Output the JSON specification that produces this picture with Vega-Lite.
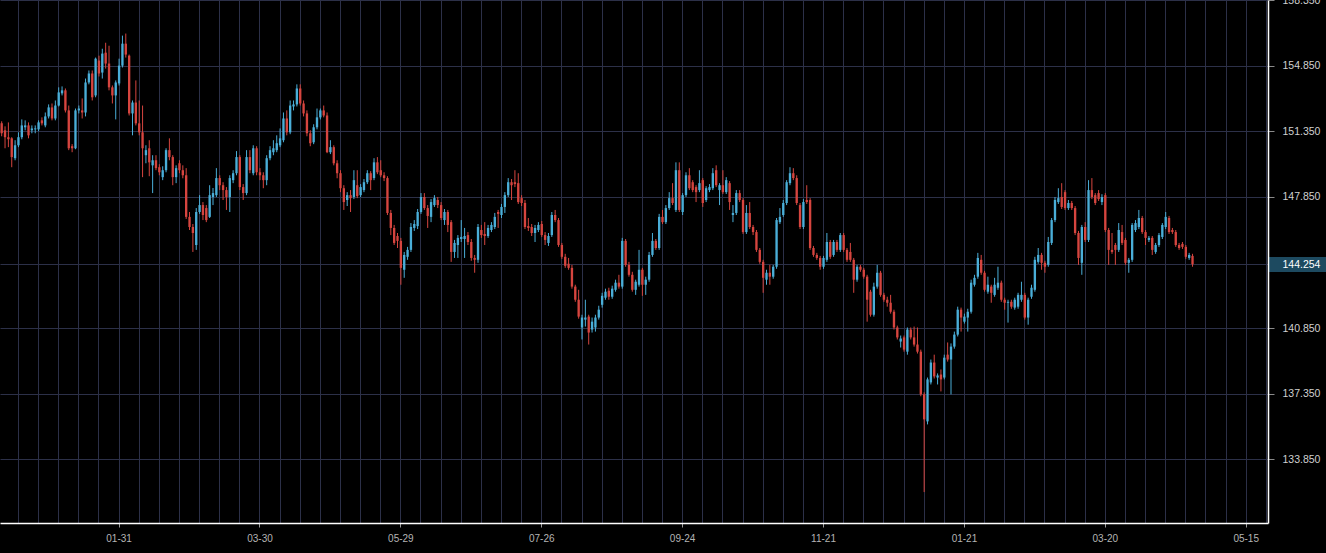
{
"$schema": "https://vega.github.io/schema/vega-lite/v6.json",
"width": 1268, "height": 523,
"padding": {"left": 0, "top": 0, "right": 58, "bottom": 30},
"autosize": {"type": "none"},
"background": "#000000",
"config": {"view": {"stroke": null}, "font": "Liberation Sans"},
"data": {"values": [
{"d":"2017-12-12","o":151.77,"h":151.88,"l":151.08,"c":151.24},
{"d":"2017-12-13","o":151.40,"h":151.61,"l":150.44,"c":151.03},
{"d":"2017-12-14","o":151.03,"h":151.82,"l":150.50,"c":150.92},
{"d":"2017-12-15","o":150.97,"h":151.03,"l":149.43,"c":149.97},
{"d":"2017-12-18","o":149.91,"h":150.87,"l":149.80,"c":150.60},
{"d":"2017-12-19","o":150.60,"h":151.29,"l":150.50,"c":151.03},
{"d":"2017-12-20","o":151.03,"h":151.98,"l":150.92,"c":151.66},
{"d":"2017-12-21","o":151.56,"h":151.93,"l":151.40,"c":151.66},
{"d":"2017-12-22","o":151.66,"h":151.82,"l":150.97,"c":151.13},
{"d":"2017-12-25","o":151.40,"h":151.66,"l":151.24,"c":151.50},
{"d":"2017-12-26","o":151.45,"h":151.66,"l":151.24,"c":151.50},
{"d":"2017-12-27","o":151.45,"h":151.93,"l":151.35,"c":151.82},
{"d":"2017-12-28","o":151.93,"h":152.09,"l":151.66,"c":151.77},
{"d":"2017-12-29","o":151.66,"h":152.35,"l":151.56,"c":152.14},
{"d":"2018-01-02","o":152.14,"h":152.78,"l":152.03,"c":152.62},
{"d":"2018-01-03","o":152.62,"h":152.83,"l":151.93,"c":152.03},
{"d":"2018-01-04","o":152.03,"h":152.99,"l":151.93,"c":152.72},
{"d":"2018-01-05","o":152.72,"h":153.69,"l":152.67,"c":153.42},
{"d":"2018-01-08","o":153.37,"h":153.74,"l":153.26,"c":153.53},
{"d":"2018-01-09","o":153.53,"h":153.63,"l":152.35,"c":152.46},
{"d":"2018-01-10","o":152.46,"h":152.72,"l":150.34,"c":150.44},
{"d":"2018-01-11","o":150.55,"h":150.66,"l":150.23,"c":150.44},
{"d":"2018-01-12","o":150.44,"h":152.56,"l":150.39,"c":152.46},
{"d":"2018-01-15","o":152.46,"h":152.72,"l":152.30,"c":152.56},
{"d":"2018-01-16","o":152.46,"h":153.10,"l":152.03,"c":152.35},
{"d":"2018-01-17","o":152.35,"h":154.16,"l":152.14,"c":153.95},
{"d":"2018-01-18","o":153.95,"h":154.59,"l":153.85,"c":154.43},
{"d":"2018-01-19","o":154.43,"h":154.59,"l":152.99,"c":153.16},
{"d":"2018-01-22","o":153.26,"h":155.28,"l":153.16,"c":155.22},
{"d":"2018-01-23","o":155.12,"h":155.38,"l":154.27,"c":154.43},
{"d":"2018-01-24","o":154.48,"h":155.75,"l":154.16,"c":155.49},
{"d":"2018-01-25","o":155.54,"h":156.07,"l":154.69,"c":154.96},
{"d":"2018-01-26","o":154.96,"h":155.91,"l":153.53,"c":153.69},
{"d":"2018-01-29","o":153.69,"h":153.79,"l":152.83,"c":153.26},
{"d":"2018-01-30","o":153.26,"h":154.06,"l":151.98,"c":153.95},
{"d":"2018-01-31","o":153.90,"h":155.22,"l":153.79,"c":154.85},
{"d":"2018-02-01","o":154.85,"h":156.45,"l":154.75,"c":156.02},
{"d":"2018-02-02","o":156.02,"h":156.56,"l":155.28,"c":155.44},
{"d":"2018-02-05","o":155.38,"h":155.44,"l":152.19,"c":152.30},
{"d":"2018-02-06","o":152.30,"h":152.99,"l":151.13,"c":152.88},
{"d":"2018-02-07","o":152.88,"h":154.06,"l":151.66,"c":151.77},
{"d":"2018-02-08","o":151.77,"h":152.99,"l":151.13,"c":151.29},
{"d":"2018-02-09","o":151.29,"h":152.72,"l":148.90,"c":150.44},
{"d":"2018-02-12","o":150.07,"h":150.60,"l":149.64,"c":150.34},
{"d":"2018-02-13","o":150.44,"h":150.87,"l":148.95,"c":149.69},
{"d":"2018-02-14","o":149.53,"h":150.07,"l":148.05,"c":149.80},
{"d":"2018-02-15","o":149.80,"h":150.07,"l":149.27,"c":149.38},
{"d":"2018-02-16","o":149.43,"h":149.59,"l":149.00,"c":149.16},
{"d":"2018-02-19","o":148.90,"h":149.48,"l":148.74,"c":149.27},
{"d":"2018-02-20","o":149.27,"h":150.44,"l":149.16,"c":150.34},
{"d":"2018-02-21","o":150.34,"h":150.97,"l":149.80,"c":149.97},
{"d":"2018-02-22","o":149.97,"h":150.07,"l":148.47,"c":148.90},
{"d":"2018-02-23","o":148.90,"h":149.53,"l":148.58,"c":149.38},
{"d":"2018-02-26","o":149.64,"h":149.80,"l":149.11,"c":149.27},
{"d":"2018-02-27","o":149.27,"h":149.53,"l":148.84,"c":149.00},
{"d":"2018-02-28","o":149.00,"h":149.38,"l":146.67,"c":146.78},
{"d":"2018-03-01","o":146.78,"h":147.04,"l":146.08,"c":146.24},
{"d":"2018-03-02","o":146.24,"h":146.40,"l":144.91,"c":145.92},
{"d":"2018-03-05","o":145.28,"h":147.25,"l":145.02,"c":147.04},
{"d":"2018-03-06","o":147.04,"h":147.94,"l":146.94,"c":147.41},
{"d":"2018-03-07","o":147.41,"h":147.57,"l":146.61,"c":146.88},
{"d":"2018-03-08","o":147.25,"h":147.41,"l":146.50,"c":146.61},
{"d":"2018-03-09","o":146.78,"h":148.47,"l":146.72,"c":147.94},
{"d":"2018-03-12","o":147.84,"h":148.32,"l":147.41,"c":148.05},
{"d":"2018-03-13","o":147.94,"h":149.38,"l":147.84,"c":148.85},
{"d":"2018-03-14","o":148.85,"h":149.00,"l":148.21,"c":148.47},
{"d":"2018-03-15","o":148.47,"h":148.63,"l":147.68,"c":148.21},
{"d":"2018-03-16","o":148.21,"h":148.37,"l":147.15,"c":147.84},
{"d":"2018-03-19","o":147.84,"h":149.00,"l":147.04,"c":148.85},
{"d":"2018-03-20","o":148.74,"h":149.27,"l":148.58,"c":149.11},
{"d":"2018-03-21","o":149.11,"h":150.29,"l":149.00,"c":149.97},
{"d":"2018-03-22","o":149.97,"h":150.07,"l":148.21,"c":148.37},
{"d":"2018-03-23","o":148.37,"h":148.53,"l":147.68,"c":148.05},
{"d":"2018-03-26","o":148.05,"h":150.34,"l":147.94,"c":149.97},
{"d":"2018-03-27","o":149.97,"h":150.34,"l":149.11,"c":149.27},
{"d":"2018-03-28","o":149.11,"h":150.60,"l":149.00,"c":150.44},
{"d":"2018-03-29","o":150.44,"h":150.55,"l":149.00,"c":149.16},
{"d":"2018-03-30","o":149.16,"h":149.38,"l":148.74,"c":149.00},
{"d":"2018-04-02","o":149.00,"h":149.16,"l":148.31,"c":148.74},
{"d":"2018-04-03","o":148.74,"h":150.07,"l":148.47,"c":149.91},
{"d":"2018-04-04","o":149.91,"h":150.55,"l":149.80,"c":150.34},
{"d":"2018-04-05","o":150.23,"h":150.87,"l":150.07,"c":150.44},
{"d":"2018-04-06","o":150.34,"h":151.13,"l":150.23,"c":150.71},
{"d":"2018-04-09","o":150.60,"h":151.50,"l":150.50,"c":150.97},
{"d":"2018-04-10","o":150.87,"h":152.35,"l":150.76,"c":152.03},
{"d":"2018-04-11","o":152.03,"h":152.46,"l":151.13,"c":151.29},
{"d":"2018-04-12","o":151.29,"h":152.99,"l":151.19,"c":152.72},
{"d":"2018-04-13","o":152.67,"h":152.99,"l":152.46,"c":152.78},
{"d":"2018-04-16","o":152.78,"h":153.85,"l":152.67,"c":153.63},
{"d":"2018-04-17","o":153.63,"h":153.85,"l":152.72,"c":152.83},
{"d":"2018-04-18","o":152.83,"h":152.99,"l":152.14,"c":152.30},
{"d":"2018-04-19","o":152.30,"h":152.46,"l":151.08,"c":151.24},
{"d":"2018-04-20","o":151.24,"h":151.40,"l":150.55,"c":150.71},
{"d":"2018-04-23","o":150.76,"h":151.72,"l":150.66,"c":151.56},
{"d":"2018-04-24","o":151.56,"h":152.56,"l":151.45,"c":152.09},
{"d":"2018-04-25","o":152.09,"h":152.56,"l":151.98,"c":152.46},
{"d":"2018-04-26","o":152.46,"h":152.72,"l":152.09,"c":152.19},
{"d":"2018-04-27","o":152.19,"h":152.35,"l":150.18,"c":150.23},
{"d":"2018-04-30","o":150.23,"h":150.87,"l":150.13,"c":150.50},
{"d":"2018-05-01","o":150.50,"h":150.60,"l":149.53,"c":149.64},
{"d":"2018-05-02","o":149.64,"h":149.80,"l":148.84,"c":149.11},
{"d":"2018-05-03","o":149.11,"h":149.27,"l":148.10,"c":148.31},
{"d":"2018-05-04","o":148.31,"h":148.47,"l":147.15,"c":147.57},
{"d":"2018-05-07","o":147.68,"h":148.10,"l":147.36,"c":147.94},
{"d":"2018-05-08","o":147.94,"h":148.21,"l":147.04,"c":147.78},
{"d":"2018-05-09","o":147.84,"h":149.27,"l":147.73,"c":148.74},
{"d":"2018-05-10","o":148.47,"h":149.27,"l":147.78,"c":147.89},
{"d":"2018-05-11","o":147.94,"h":148.53,"l":147.84,"c":148.37},
{"d":"2018-05-14","o":148.21,"h":148.80,"l":148.10,"c":148.63},
{"d":"2018-05-15","o":148.63,"h":149.27,"l":148.53,"c":149.11},
{"d":"2018-05-16","o":149.11,"h":149.22,"l":148.21,"c":148.74},
{"d":"2018-05-17","o":148.85,"h":149.91,"l":148.74,"c":149.69},
{"d":"2018-05-18","o":149.69,"h":149.97,"l":149.06,"c":149.16},
{"d":"2018-05-21","o":149.27,"h":149.80,"l":148.90,"c":149.00},
{"d":"2018-05-22","o":149.00,"h":149.16,"l":148.69,"c":148.85},
{"d":"2018-05-23","o":148.85,"h":148.95,"l":146.88,"c":146.99},
{"d":"2018-05-24","o":146.99,"h":147.15,"l":145.81,"c":146.19},
{"d":"2018-05-25","o":146.19,"h":146.35,"l":145.28,"c":145.39},
{"d":"2018-05-28","o":145.76,"h":145.92,"l":145.12,"c":145.50},
{"d":"2018-05-29","o":145.50,"h":145.66,"l":143.16,"c":144.06},
{"d":"2018-05-30","o":143.96,"h":144.91,"l":143.53,"c":144.75},
{"d":"2018-05-31","o":144.65,"h":145.18,"l":144.49,"c":145.02},
{"d":"2018-06-01","o":145.02,"h":146.45,"l":144.91,"c":146.24},
{"d":"2018-06-04","o":146.19,"h":146.61,"l":146.03,"c":146.40},
{"d":"2018-06-05","o":146.29,"h":147.20,"l":146.13,"c":147.04},
{"d":"2018-06-06","o":147.04,"h":148.05,"l":146.94,"c":147.84},
{"d":"2018-06-07","o":147.84,"h":148.05,"l":147.15,"c":147.25},
{"d":"2018-06-08","o":147.25,"h":147.41,"l":146.19,"c":146.83},
{"d":"2018-06-11","o":146.78,"h":147.73,"l":146.50,"c":147.57},
{"d":"2018-06-12","o":147.41,"h":147.94,"l":147.31,"c":147.78},
{"d":"2018-06-13","o":147.68,"h":147.84,"l":147.25,"c":147.41},
{"d":"2018-06-14","o":147.41,"h":147.57,"l":146.61,"c":146.72},
{"d":"2018-06-15","o":146.61,"h":147.20,"l":146.35,"c":147.04},
{"d":"2018-06-18","o":147.04,"h":147.15,"l":145.97,"c":146.35},
{"d":"2018-06-19","o":146.50,"h":146.61,"l":144.38,"c":144.91},
{"d":"2018-06-20","o":144.91,"h":145.55,"l":144.59,"c":145.39},
{"d":"2018-06-21","o":145.28,"h":145.81,"l":144.59,"c":145.66},
{"d":"2018-06-22","o":145.60,"h":146.61,"l":145.44,"c":145.71},
{"d":"2018-06-25","o":145.60,"h":146.19,"l":144.59,"c":145.76},
{"d":"2018-06-26","o":145.81,"h":145.97,"l":145.28,"c":145.44},
{"d":"2018-06-27","o":145.44,"h":145.60,"l":144.44,"c":144.59},
{"d":"2018-06-28","o":144.59,"h":144.75,"l":143.80,"c":144.49},
{"d":"2018-06-29","o":144.49,"h":146.40,"l":144.33,"c":146.24},
{"d":"2018-07-02","o":146.08,"h":146.35,"l":145.66,"c":145.81},
{"d":"2018-07-03","o":145.87,"h":146.50,"l":145.28,"c":145.76},
{"d":"2018-07-04","o":145.76,"h":146.35,"l":145.66,"c":146.19},
{"d":"2018-07-05","o":146.08,"h":146.50,"l":145.97,"c":146.35},
{"d":"2018-07-06","o":146.24,"h":146.99,"l":146.13,"c":146.78},
{"d":"2018-07-09","o":147.04,"h":147.15,"l":146.19,"c":146.94},
{"d":"2018-07-10","o":146.88,"h":147.47,"l":146.72,"c":147.31},
{"d":"2018-07-11","o":147.31,"h":148.10,"l":146.99,"c":147.94},
{"d":"2018-07-12","o":147.94,"h":148.85,"l":147.84,"c":148.63},
{"d":"2018-07-13","o":148.63,"h":148.80,"l":147.68,"c":148.47},
{"d":"2018-07-16","o":148.63,"h":149.27,"l":148.37,"c":148.53},
{"d":"2018-07-17","o":148.58,"h":149.11,"l":147.47,"c":147.57},
{"d":"2018-07-18","o":147.78,"h":147.94,"l":147.36,"c":147.52},
{"d":"2018-07-19","o":147.52,"h":147.68,"l":146.13,"c":146.24},
{"d":"2018-07-20","o":146.29,"h":146.72,"l":146.03,"c":146.19},
{"d":"2018-07-23","o":146.24,"h":146.40,"l":145.76,"c":145.92},
{"d":"2018-07-24","o":145.92,"h":146.35,"l":145.44,"c":146.19},
{"d":"2018-07-25","o":146.08,"h":146.50,"l":145.97,"c":146.35},
{"d":"2018-07-26","o":146.40,"h":146.56,"l":145.71,"c":145.81},
{"d":"2018-07-27","o":145.81,"h":145.97,"l":145.28,"c":145.55},
{"d":"2018-07-30","o":145.39,"h":145.92,"l":145.23,"c":145.76},
{"d":"2018-07-31","o":145.81,"h":147.04,"l":145.71,"c":146.88},
{"d":"2018-08-01","o":146.88,"h":147.15,"l":146.50,"c":146.61},
{"d":"2018-08-02","o":146.61,"h":146.72,"l":145.18,"c":145.28},
{"d":"2018-08-03","o":145.28,"h":145.39,"l":144.54,"c":144.65},
{"d":"2018-08-06","o":144.65,"h":144.81,"l":144.06,"c":144.17},
{"d":"2018-08-07","o":144.28,"h":144.59,"l":143.96,"c":144.06},
{"d":"2018-08-08","o":144.06,"h":144.22,"l":142.95,"c":143.06},
{"d":"2018-08-09","o":143.06,"h":143.16,"l":142.25,"c":142.36},
{"d":"2018-08-10","o":142.36,"h":142.89,"l":141.35,"c":141.46},
{"d":"2018-08-13","o":140.88,"h":141.56,"l":140.24,"c":141.41},
{"d":"2018-08-14","o":141.30,"h":142.36,"l":140.93,"c":141.41},
{"d":"2018-08-15","o":141.46,"h":141.56,"l":139.97,"c":140.61},
{"d":"2018-08-16","o":140.77,"h":141.41,"l":140.61,"c":141.19},
{"d":"2018-08-17","o":140.88,"h":141.56,"l":140.66,"c":141.41},
{"d":"2018-08-20","o":141.41,"h":142.04,"l":141.30,"c":141.83},
{"d":"2018-08-21","o":142.09,"h":142.73,"l":141.94,"c":142.57},
{"d":"2018-08-22","o":142.47,"h":142.95,"l":142.36,"c":142.79},
{"d":"2018-08-23","o":142.84,"h":143.00,"l":142.36,"c":142.52},
{"d":"2018-08-24","o":142.52,"h":143.11,"l":142.41,"c":142.95},
{"d":"2018-08-27","o":142.89,"h":143.43,"l":142.79,"c":143.27},
{"d":"2018-08-28","o":143.27,"h":143.69,"l":142.95,"c":143.06},
{"d":"2018-08-29","o":143.06,"h":145.66,"l":142.95,"c":145.50},
{"d":"2018-08-30","o":145.50,"h":145.60,"l":144.12,"c":144.22},
{"d":"2018-08-31","o":144.22,"h":144.38,"l":143.59,"c":143.69},
{"d":"2018-09-03","o":143.69,"h":143.85,"l":142.79,"c":142.89},
{"d":"2018-09-04","o":142.89,"h":143.43,"l":142.62,"c":143.32},
{"d":"2018-09-05","o":143.16,"h":145.02,"l":143.06,"c":143.96},
{"d":"2018-09-06","o":143.96,"h":144.06,"l":142.57,"c":143.16},
{"d":"2018-09-07","o":143.16,"h":143.59,"l":142.62,"c":143.43},
{"d":"2018-09-10","o":143.43,"h":144.91,"l":143.32,"c":144.75},
{"d":"2018-09-11","o":144.75,"h":145.92,"l":144.65,"c":145.50},
{"d":"2018-09-12","o":145.50,"h":145.60,"l":145.02,"c":145.12},
{"d":"2018-09-13","o":145.12,"h":146.94,"l":145.02,"c":146.78},
{"d":"2018-09-14","o":146.78,"h":147.15,"l":146.40,"c":146.50},
{"d":"2018-09-17","o":146.50,"h":147.41,"l":146.40,"c":147.25},
{"d":"2018-09-18","o":147.25,"h":148.10,"l":147.15,"c":147.78},
{"d":"2018-09-19","o":147.78,"h":148.58,"l":147.41,"c":147.52},
{"d":"2018-09-20","o":147.15,"h":149.69,"l":147.04,"c":149.27},
{"d":"2018-09-21","o":149.27,"h":149.69,"l":147.04,"c":147.15},
{"d":"2018-09-24","o":147.04,"h":148.05,"l":146.88,"c":147.94},
{"d":"2018-09-25","o":147.94,"h":149.16,"l":147.84,"c":149.00},
{"d":"2018-09-26","o":149.00,"h":149.38,"l":148.21,"c":148.31},
{"d":"2018-09-27","o":148.63,"h":148.74,"l":148.10,"c":148.21},
{"d":"2018-09-28","o":148.37,"h":148.47,"l":147.57,"c":148.10},
{"d":"2018-10-01","o":148.21,"h":149.27,"l":148.10,"c":148.58},
{"d":"2018-10-02","o":148.74,"h":148.85,"l":147.31,"c":147.52},
{"d":"2018-10-03","o":147.68,"h":148.42,"l":147.57,"c":148.31},
{"d":"2018-10-04","o":148.21,"h":148.53,"l":148.10,"c":148.37},
{"d":"2018-10-05","o":148.31,"h":149.38,"l":148.21,"c":149.11},
{"d":"2018-10-08","o":149.27,"h":149.53,"l":148.37,"c":148.47},
{"d":"2018-10-09","o":148.21,"h":148.58,"l":147.41,"c":148.47},
{"d":"2018-10-10","o":148.47,"h":149.27,"l":148.00,"c":148.10},
{"d":"2018-10-11","o":148.10,"h":148.90,"l":148.00,"c":148.74},
{"d":"2018-10-12","o":148.58,"h":148.69,"l":147.15,"c":147.57},
{"d":"2018-10-15","o":146.88,"h":147.41,"l":146.50,"c":146.99},
{"d":"2018-10-16","o":146.99,"h":148.21,"l":146.88,"c":148.05},
{"d":"2018-10-17","o":148.05,"h":148.21,"l":147.57,"c":147.68},
{"d":"2018-10-18","o":147.68,"h":147.78,"l":145.87,"c":145.97},
{"d":"2018-10-19","o":145.97,"h":147.41,"l":145.87,"c":146.99},
{"d":"2018-10-22","o":146.99,"h":147.57,"l":146.13,"c":146.24},
{"d":"2018-10-23","o":146.24,"h":146.35,"l":145.81,"c":145.97},
{"d":"2018-10-24","o":145.97,"h":146.08,"l":144.91,"c":145.02},
{"d":"2018-10-25","o":145.02,"h":145.12,"l":144.28,"c":144.38},
{"d":"2018-10-26","o":144.38,"h":144.49,"l":142.73,"c":143.53},
{"d":"2018-10-29","o":143.43,"h":143.96,"l":143.16,"c":143.80},
{"d":"2018-10-30","o":143.80,"h":144.22,"l":143.16,"c":143.59},
{"d":"2018-10-31","o":143.59,"h":144.22,"l":143.48,"c":144.12},
{"d":"2018-11-01","o":144.12,"h":146.72,"l":144.01,"c":146.61},
{"d":"2018-11-02","o":146.50,"h":147.25,"l":146.40,"c":146.78},
{"d":"2018-11-05","o":146.88,"h":147.68,"l":146.78,"c":147.52},
{"d":"2018-11-06","o":147.52,"h":148.74,"l":147.41,"c":148.63},
{"d":"2018-11-07","o":148.58,"h":149.43,"l":148.47,"c":149.11},
{"d":"2018-11-08","o":149.11,"h":149.38,"l":148.74,"c":148.85},
{"d":"2018-11-09","o":148.85,"h":149.00,"l":147.41,"c":147.52},
{"d":"2018-11-12","o":147.41,"h":147.52,"l":146.13,"c":146.24},
{"d":"2018-11-13","o":146.24,"h":147.73,"l":146.13,"c":147.57},
{"d":"2018-11-14","o":147.68,"h":148.47,"l":147.47,"c":147.57},
{"d":"2018-11-15","o":147.68,"h":147.78,"l":145.02,"c":145.12},
{"d":"2018-11-16","o":145.12,"h":145.23,"l":144.65,"c":144.75},
{"d":"2018-11-19","o":144.75,"h":144.86,"l":144.49,"c":144.59},
{"d":"2018-11-20","o":144.59,"h":144.70,"l":143.96,"c":144.12},
{"d":"2018-11-21","o":144.12,"h":144.70,"l":144.01,"c":144.59},
{"d":"2018-11-22","o":144.49,"h":145.92,"l":144.38,"c":145.44},
{"d":"2018-11-23","o":145.44,"h":145.55,"l":144.54,"c":144.65},
{"d":"2018-11-26","o":144.75,"h":145.55,"l":144.65,"c":145.44},
{"d":"2018-11-27","o":145.44,"h":145.55,"l":144.91,"c":145.02},
{"d":"2018-11-28","o":145.02,"h":145.92,"l":144.91,"c":145.81},
{"d":"2018-11-29","o":145.81,"h":145.92,"l":144.91,"c":145.02},
{"d":"2018-11-30","o":145.02,"h":145.12,"l":144.38,"c":144.49},
{"d":"2018-12-03","o":144.91,"h":145.39,"l":144.38,"c":144.49},
{"d":"2018-12-04","o":144.49,"h":144.59,"l":142.73,"c":143.43},
{"d":"2018-12-05","o":143.43,"h":144.22,"l":143.32,"c":144.12},
{"d":"2018-12-06","o":144.12,"h":144.22,"l":143.85,"c":143.96},
{"d":"2018-12-07","o":143.96,"h":144.06,"l":143.48,"c":143.59},
{"d":"2018-12-10","o":143.59,"h":143.69,"l":141.19,"c":142.36},
{"d":"2018-12-11","o":142.79,"h":142.89,"l":141.46,"c":141.56},
{"d":"2018-12-12","o":141.56,"h":143.27,"l":141.46,"c":143.06},
{"d":"2018-12-13","o":143.06,"h":144.22,"l":142.95,"c":143.80},
{"d":"2018-12-14","o":143.80,"h":143.90,"l":142.52,"c":142.62},
{"d":"2018-12-17","o":142.62,"h":142.73,"l":142.25,"c":142.36},
{"d":"2018-12-18","o":142.36,"h":142.52,"l":141.99,"c":142.20},
{"d":"2018-12-19","o":142.20,"h":142.62,"l":141.62,"c":141.72},
{"d":"2018-12-20","o":141.72,"h":141.83,"l":140.77,"c":140.88},
{"d":"2018-12-21","o":140.88,"h":140.98,"l":140.24,"c":140.35},
{"d":"2018-12-24","o":140.13,"h":140.45,"l":139.81,"c":140.29},
{"d":"2018-12-25","o":140.35,"h":140.45,"l":139.59,"c":139.70},
{"d":"2018-12-26","o":139.59,"h":140.88,"l":139.43,"c":140.77},
{"d":"2018-12-27","o":140.77,"h":140.88,"l":140.24,"c":140.35},
{"d":"2018-12-28","o":140.35,"h":140.93,"l":139.86,"c":139.97},
{"d":"2018-12-31","o":139.97,"h":140.88,"l":139.49,"c":139.59},
{"d":"2019-01-02","o":139.59,"h":139.70,"l":137.21,"c":137.31},
{"d":"2019-01-03","o":137.31,"h":137.42,"l":132.10,"c":135.98},
{"d":"2019-01-04","o":135.87,"h":138.21,"l":135.71,"c":138.11},
{"d":"2019-01-07","o":137.95,"h":139.17,"l":137.84,"c":139.01},
{"d":"2019-01-08","o":139.01,"h":139.43,"l":138.16,"c":138.27},
{"d":"2019-01-09","o":138.21,"h":138.43,"l":137.84,"c":138.32},
{"d":"2019-01-10","o":138.37,"h":138.64,"l":137.47,"c":138.11},
{"d":"2019-01-11","o":138.21,"h":139.43,"l":138.11,"c":139.27},
{"d":"2019-01-14","o":139.43,"h":140.08,"l":139.06,"c":139.17},
{"d":"2019-01-15","o":139.17,"h":140.03,"l":137.31,"c":139.86},
{"d":"2019-01-16","o":139.86,"h":140.66,"l":139.75,"c":140.50},
{"d":"2019-01-17","o":140.50,"h":141.99,"l":140.40,"c":141.83},
{"d":"2019-01-18","o":141.83,"h":141.94,"l":140.66,"c":141.41},
{"d":"2019-01-21","o":141.19,"h":141.62,"l":141.09,"c":141.46},
{"d":"2019-01-22","o":141.41,"h":141.88,"l":140.66,"c":141.72},
{"d":"2019-01-23","o":141.72,"h":143.43,"l":141.62,"c":143.27},
{"d":"2019-01-24","o":143.16,"h":143.69,"l":143.06,"c":143.53},
{"d":"2019-01-25","o":143.59,"h":144.86,"l":143.48,"c":144.59},
{"d":"2019-01-28","o":144.49,"h":144.75,"l":143.69,"c":143.80},
{"d":"2019-01-29","o":143.80,"h":143.90,"l":142.79,"c":142.89},
{"d":"2019-01-30","o":142.79,"h":143.59,"l":142.68,"c":143.16},
{"d":"2019-01-31","o":143.06,"h":143.16,"l":142.20,"c":142.73},
{"d":"2019-02-01","o":142.62,"h":143.53,"l":142.52,"c":143.16},
{"d":"2019-02-04","o":143.00,"h":144.12,"l":142.89,"c":143.27},
{"d":"2019-02-05","o":143.27,"h":143.38,"l":142.25,"c":142.36},
{"d":"2019-02-06","o":142.36,"h":142.47,"l":141.83,"c":142.20},
{"d":"2019-02-07","o":142.20,"h":142.36,"l":141.14,"c":142.25},
{"d":"2019-02-08","o":142.25,"h":142.36,"l":141.88,"c":141.99},
{"d":"2019-02-11","o":141.94,"h":142.47,"l":141.83,"c":142.36},
{"d":"2019-02-12","o":141.99,"h":142.73,"l":141.88,"c":142.62},
{"d":"2019-02-13","o":142.36,"h":143.32,"l":142.25,"c":142.62},
{"d":"2019-02-14","o":142.62,"h":142.73,"l":141.30,"c":141.41},
{"d":"2019-02-15","o":141.41,"h":142.47,"l":141.03,"c":142.36},
{"d":"2019-02-18","o":142.52,"h":143.16,"l":142.41,"c":143.00},
{"d":"2019-02-19","o":142.89,"h":144.65,"l":142.79,"c":144.49},
{"d":"2019-02-20","o":144.38,"h":145.12,"l":144.28,"c":144.75},
{"d":"2019-02-21","o":144.75,"h":144.86,"l":143.96,"c":144.33},
{"d":"2019-02-22","o":144.33,"h":144.44,"l":143.80,"c":144.12},
{"d":"2019-02-25","o":144.22,"h":145.71,"l":144.12,"c":145.44},
{"d":"2019-02-26","o":145.39,"h":146.72,"l":145.28,"c":146.61},
{"d":"2019-02-27","o":146.61,"h":147.84,"l":146.50,"c":147.68},
{"d":"2019-02-28","o":147.57,"h":148.31,"l":147.47,"c":147.78},
{"d":"2019-03-01","o":147.84,"h":148.58,"l":147.20,"c":147.31},
{"d":"2019-03-04","o":148.10,"h":148.21,"l":147.15,"c":147.25},
{"d":"2019-03-05","o":147.25,"h":147.68,"l":147.15,"c":147.52},
{"d":"2019-03-06","o":147.52,"h":147.63,"l":147.15,"c":147.25},
{"d":"2019-03-07","o":147.25,"h":147.36,"l":145.81,"c":145.92},
{"d":"2019-03-08","o":145.92,"h":146.03,"l":144.22,"c":144.59},
{"d":"2019-03-11","o":144.33,"h":146.35,"l":143.69,"c":146.24},
{"d":"2019-03-12","o":146.24,"h":146.50,"l":145.44,"c":145.55},
{"d":"2019-03-13","o":145.55,"h":148.74,"l":145.44,"c":148.21},
{"d":"2019-03-14","o":148.21,"h":148.85,"l":147.73,"c":147.84},
{"d":"2019-03-15","o":147.94,"h":148.05,"l":147.41,"c":147.52},
{"d":"2019-03-18","o":148.05,"h":148.21,"l":147.63,"c":147.73},
{"d":"2019-03-19","o":147.57,"h":147.99,"l":147.41,"c":147.84},
{"d":"2019-03-20","o":147.94,"h":148.05,"l":145.97,"c":146.08},
{"d":"2019-03-21","o":146.08,"h":146.19,"l":144.22,"c":145.02},
{"d":"2019-03-22","o":145.02,"h":145.92,"l":144.81,"c":144.91},
{"d":"2019-03-25","o":145.28,"h":145.39,"l":144.22,"c":145.02},
{"d":"2019-03-26","o":145.02,"h":146.45,"l":144.91,"c":146.08},
{"d":"2019-03-27","o":145.97,"h":146.35,"l":145.28,"c":145.39},
{"d":"2019-03-28","o":145.55,"h":145.66,"l":144.22,"c":144.33},
{"d":"2019-03-29","o":144.33,"h":144.59,"l":143.80,"c":144.49},
{"d":"2019-04-01","o":144.49,"h":146.45,"l":144.38,"c":146.35},
{"d":"2019-04-02","o":146.08,"h":146.61,"l":145.97,"c":146.45},
{"d":"2019-04-03","o":146.24,"h":147.15,"l":146.13,"c":146.72},
{"d":"2019-04-04","o":146.72,"h":146.83,"l":145.87,"c":145.97},
{"d":"2019-04-05","o":145.97,"h":146.08,"l":145.28,"c":145.66},
{"d":"2019-04-08","o":145.55,"h":145.76,"l":145.44,"c":145.66},
{"d":"2019-04-09","o":145.66,"h":145.76,"l":144.75,"c":145.02},
{"d":"2019-04-10","o":144.91,"h":145.39,"l":144.81,"c":145.28},
{"d":"2019-04-11","o":145.28,"h":145.92,"l":145.18,"c":145.81},
{"d":"2019-04-12","o":145.71,"h":146.45,"l":145.60,"c":146.35},
{"d":"2019-04-15","o":146.24,"h":147.04,"l":146.13,"c":146.78},
{"d":"2019-04-16","o":146.72,"h":146.83,"l":145.87,"c":145.97},
{"d":"2019-04-17","o":146.08,"h":146.19,"l":145.87,"c":145.97},
{"d":"2019-04-18","o":145.97,"h":146.08,"l":145.18,"c":145.28},
{"d":"2019-04-19","o":145.28,"h":145.39,"l":145.02,"c":145.12},
{"d":"2019-04-22","o":145.34,"h":145.44,"l":145.07,"c":145.18},
{"d":"2019-04-23","o":145.18,"h":145.28,"l":144.54,"c":144.65},
{"d":"2019-04-24","o":144.59,"h":144.86,"l":144.49,"c":144.75},
{"d":"2019-04-25","o":144.70,"h":144.81,"l":144.12,"c":144.254}
]},
"encoding": {
"x": {"field": "d", "type": "ordinal", "title": null,
 "scale": {"type": "band", "paddingInner": 0, "paddingOuter": 0, "domain": [
"2017-12-12","2017-12-13","2017-12-14","2017-12-15","2017-12-18","2017-12-19","2017-12-20","2017-12-21","2017-12-22","2017-12-25","2017-12-26","2017-12-27","2017-12-28","2017-12-29",
"2018-01-02","2018-01-03","2018-01-04","2018-01-05","2018-01-08","2018-01-09","2018-01-10","2018-01-11","2018-01-12","2018-01-15","2018-01-16","2018-01-17","2018-01-18","2018-01-19","2018-01-22","2018-01-23","2018-01-24","2018-01-25","2018-01-26","2018-01-29","2018-01-30","2018-01-31",
"2018-02-01","2018-02-02","2018-02-05","2018-02-06","2018-02-07","2018-02-08","2018-02-09","2018-02-12","2018-02-13","2018-02-14","2018-02-15","2018-02-16","2018-02-19","2018-02-20","2018-02-21","2018-02-22","2018-02-23","2018-02-26","2018-02-27","2018-02-28",
"2018-03-01","2018-03-02","2018-03-05","2018-03-06","2018-03-07","2018-03-08","2018-03-09","2018-03-12","2018-03-13","2018-03-14","2018-03-15","2018-03-16","2018-03-19","2018-03-20","2018-03-21","2018-03-22","2018-03-23","2018-03-26","2018-03-27","2018-03-28","2018-03-29","2018-03-30",
"2018-04-02","2018-04-03","2018-04-04","2018-04-05","2018-04-06","2018-04-09","2018-04-10","2018-04-11","2018-04-12","2018-04-13","2018-04-16","2018-04-17","2018-04-18","2018-04-19","2018-04-20","2018-04-23","2018-04-24","2018-04-25","2018-04-26","2018-04-27","2018-04-30",
"2018-05-01","2018-05-02","2018-05-03","2018-05-04","2018-05-07","2018-05-08","2018-05-09","2018-05-10","2018-05-11","2018-05-14","2018-05-15","2018-05-16","2018-05-17","2018-05-18","2018-05-21","2018-05-22","2018-05-23","2018-05-24","2018-05-25","2018-05-28","2018-05-29","2018-05-30","2018-05-31",
"2018-06-01","2018-06-04","2018-06-05","2018-06-06","2018-06-07","2018-06-08","2018-06-11","2018-06-12","2018-06-13","2018-06-14","2018-06-15","2018-06-18","2018-06-19","2018-06-20","2018-06-21","2018-06-22","2018-06-25","2018-06-26","2018-06-27","2018-06-28","2018-06-29",
"2018-07-02","2018-07-03","2018-07-04","2018-07-05","2018-07-06","2018-07-09","2018-07-10","2018-07-11","2018-07-12","2018-07-13","2018-07-16","2018-07-17","2018-07-18","2018-07-19","2018-07-20","2018-07-23","2018-07-24","2018-07-25","2018-07-26","2018-07-27","2018-07-30","2018-07-31",
"2018-08-01","2018-08-02","2018-08-03","2018-08-06","2018-08-07","2018-08-08","2018-08-09","2018-08-10","2018-08-13","2018-08-14","2018-08-15","2018-08-16","2018-08-17","2018-08-20","2018-08-21","2018-08-22","2018-08-23","2018-08-24","2018-08-27","2018-08-28","2018-08-29","2018-08-30","2018-08-31",
"2018-09-03","2018-09-04","2018-09-05","2018-09-06","2018-09-07","2018-09-10","2018-09-11","2018-09-12","2018-09-13","2018-09-14","2018-09-17","2018-09-18","2018-09-19","2018-09-20","2018-09-21","2018-09-24","2018-09-25","2018-09-26","2018-09-27","2018-09-28",
"2018-10-01","2018-10-02","2018-10-03","2018-10-04","2018-10-05","2018-10-08","2018-10-09","2018-10-10","2018-10-11","2018-10-12","2018-10-15","2018-10-16","2018-10-17","2018-10-18","2018-10-19","2018-10-22","2018-10-23","2018-10-24","2018-10-25","2018-10-26","2018-10-29","2018-10-30","2018-10-31",
"2018-11-01","2018-11-02","2018-11-05","2018-11-06","2018-11-07","2018-11-08","2018-11-09","2018-11-12","2018-11-13","2018-11-14","2018-11-15","2018-11-16","2018-11-19","2018-11-20","2018-11-21","2018-11-22","2018-11-23","2018-11-26","2018-11-27","2018-11-28","2018-11-29","2018-11-30",
"2018-12-03","2018-12-04","2018-12-05","2018-12-06","2018-12-07","2018-12-10","2018-12-11","2018-12-12","2018-12-13","2018-12-14","2018-12-17","2018-12-18","2018-12-19","2018-12-20","2018-12-21","2018-12-24","2018-12-25","2018-12-26","2018-12-27","2018-12-28","2018-12-31",
"2019-01-02","2019-01-03","2019-01-04","2019-01-07","2019-01-08","2019-01-09","2019-01-10","2019-01-11","2019-01-14","2019-01-15","2019-01-16","2019-01-17","2019-01-18","2019-01-21","2019-01-22","2019-01-23","2019-01-24","2019-01-25","2019-01-28","2019-01-29","2019-01-30","2019-01-31",
"2019-02-01","2019-02-04","2019-02-05","2019-02-06","2019-02-07","2019-02-08","2019-02-11","2019-02-12","2019-02-13","2019-02-14","2019-02-15","2019-02-18","2019-02-19","2019-02-20","2019-02-21","2019-02-22","2019-02-25","2019-02-26","2019-02-27","2019-02-28",
"2019-03-01","2019-03-04","2019-03-05","2019-03-06","2019-03-07","2019-03-08","2019-03-11","2019-03-12","2019-03-13","2019-03-14","2019-03-15","2019-03-18","2019-03-19","2019-03-20","2019-03-21","2019-03-22","2019-03-25","2019-03-26","2019-03-27","2019-03-28","2019-03-29",
"2019-04-01","2019-04-02","2019-04-03","2019-04-04","2019-04-05","2019-04-08","2019-04-09","2019-04-10","2019-04-11","2019-04-12","2019-04-15","2019-04-16","2019-04-17","2019-04-18","2019-04-19","2019-04-22","2019-04-23","2019-04-24","2019-04-25",
"2019-04-26","2019-04-29","2019-04-30","2019-05-01","2019-05-02","2019-05-03","2019-05-04","2019-05-05","2019-05-06","2019-05-07","2019-05-08","2019-05-09","2019-05-10","2019-05-13","2019-05-14","2019-05-15","2019-05-16","2019-05-17","2019-05-20","2019-05-21","2019-05-22","2019-05-23"
 ]},
 "axis": {
  "values": ["2017-12-19","2017-12-27","2018-01-05","2018-01-15","2018-01-23","2018-01-31","2018-02-08","2018-02-16","2018-02-26","2018-03-06","2018-03-14","2018-03-22","2018-03-30","2018-04-09","2018-04-17","2018-04-25","2018-05-03","2018-05-11","2018-05-21","2018-05-29","2018-06-06","2018-06-14","2018-06-22","2018-07-02","2018-07-10","2018-07-18","2018-07-26","2018-08-03","2018-08-13","2018-08-21","2018-08-29","2018-09-06","2018-09-14","2018-09-24","2018-10-02","2018-10-10","2018-10-18","2018-10-26","2018-11-05","2018-11-13","2018-11-21","2018-11-29","2018-12-07","2018-12-17","2018-12-25","2019-01-03","2019-01-11","2019-01-21","2019-01-29","2019-02-06","2019-02-14","2019-02-22","2019-03-04","2019-03-12","2019-03-20","2019-03-28","2019-04-05","2019-04-15","2019-04-23","2019-05-01","2019-05-07","2019-05-15","2019-05-23"],
  "labelExpr": "indexof(['2018-01-31','2018-03-30','2018-05-29','2018-07-26','2018-09-24','2018-11-21','2019-01-21','2019-03-20','2019-05-15'], datum.value) >= 0 ? slice(datum.value, 5) : ''",
  "bandPosition": 0.5,
  "grid": true, "gridColor": "#2c3048", "gridWidth": 1,
  "domainColor": "#ffffff", "domainWidth": 1.5,
  "tickColor": "#9a9a9a", "tickSize": 4,
  "tickOpacity": {"condition": {"test": "indexof(['2018-01-31','2018-03-30','2018-05-29','2018-07-26','2018-09-24','2018-11-21','2019-01-21','2019-03-20','2019-05-15'], datum.value) >= 0", "value": 1}, "value": 0},
  "labelColor": "#b4b4b4", "labelFontSize": 10, "labelPadding": 6, "labelAngle": 0,
  "labelOverlap": false, "labelFlush": false, "title": null
 }},
"color": {"condition": {"test": "datum.c > datum.o", "value": "#4aaed8"}, "value": "#d6453f"}
},
"layer": [
{"mark": {"type": "rule", "strokeWidth": 1},
 "encoding": {
  "y": {"field": "l", "type": "quantitative", "title": null,
   "scale": {"domain": [130.45, 158.35], "nice": false, "zero": false},
   "axis": {"orient": "right",
    "values": [133.85, 137.35, 140.85, 144.254, 147.85, 151.35, 154.85, 158.35],
    "format": ".3f",
    "grid": true, "gridColor": "#2c3048", "gridWidth": 1,
    "domainColor": "#ffffff", "domainWidth": 1.5,
    "tickColor": {"condition": {"test": "datum.value == 144.254", "value": "#1d4a60"}, "value": "#8a8a8a"},
    "tickSize": {"condition": {"test": "datum.value == 144.254", "value": 58}, "value": 6},
    "tickWidth": {"condition": {"test": "datum.value == 144.254", "value": 15}, "value": 1},
    "labelPadding": {"condition": {"test": "datum.value == 144.254", "value": -44}, "value": 8},
    "labelColor": {"condition": {"test": "datum.value == 144.254", "value": "#ffffff"}, "value": "#d0d0d0"},
    "labelFontSize": 10.5, "labelFlush": false, "labelOverlap": false, "title": null}},
  "y2": {"field": "h"}}},
{"mark": {"type": "bar", "width": {"band": 0.7}},
 "encoding": {
  "y": {"field": "o", "type": "quantitative", "title": null},
  "y2": {"field": "c"}}}
]
}
